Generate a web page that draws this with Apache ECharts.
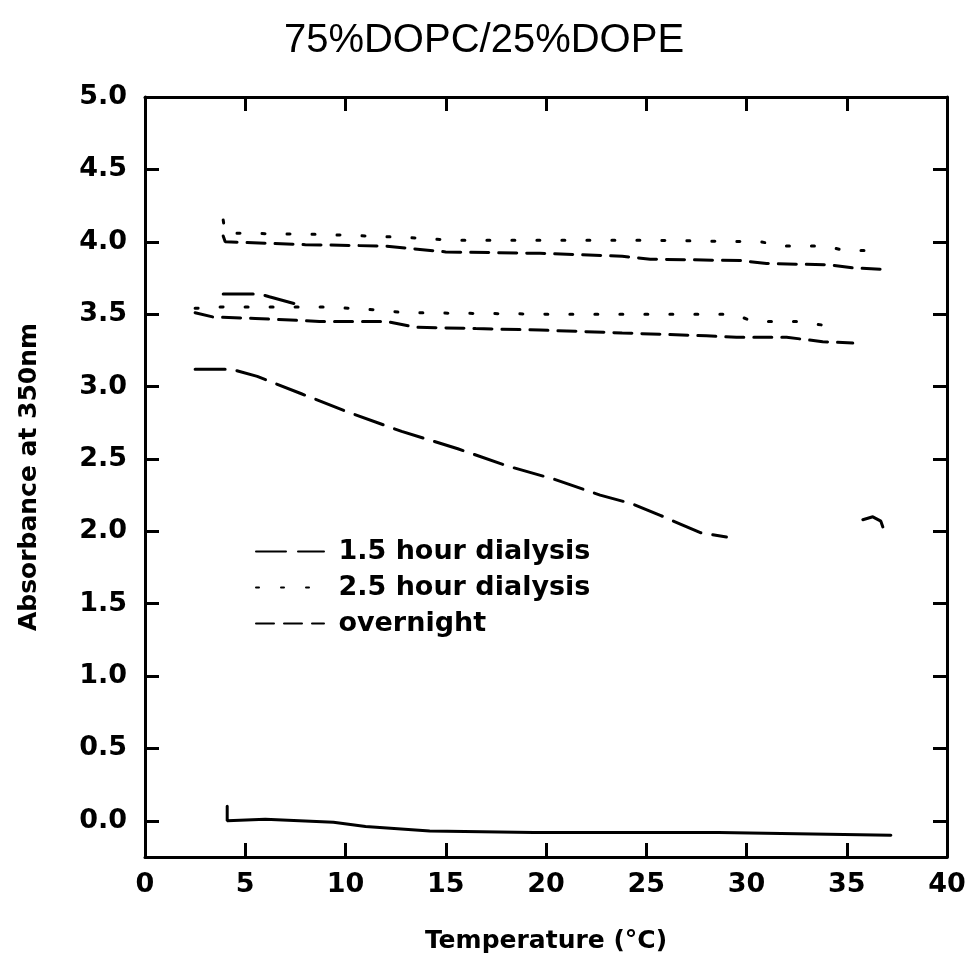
<!DOCTYPE html>
<html>
<head>
<meta charset="utf-8">
<script src="https://cdn.jsdelivr.net/npm/echarts@6/dist/echarts.min.js"></script>
<style>
  html, body { margin: 0; padding: 0; background: #fff; }
  #chart { width: 968px; height: 966px; }
</style>
</head>
<body>
<div id="chart"></div>
<script>
// absorbance vs temperature, 75% DOPC / 25% DOPE

var xTicks = [0, 5, 10, 15, 20, 25, 30, 35, 40];
var yTicks = [0, 0.5, 1.0, 1.5, 2.0, 2.5, 3.0, 3.5, 4.0, 4.5, 5.0];
var legendNames = ['1.5 hour dialysis', '2.5 hour dialysis', 'overnight'];

// 1.5 hour dialysis (long dash)
var t15 = [2.5, 4.3, 5.6, 7.8, 10.0, 12.8, 15.6, 18.1, 20.4, 22.7, 24.3, 25.7, 26.7, 27.7, 29.0];
var a15 = [3.12, 3.12, 3.07, 2.95, 2.83, 2.69, 2.57, 2.45, 2.36, 2.25, 2.19, 2.11, 2.05, 1.99, 1.96];
var t15b = [3.9, 5.7, 6.2, 7.8];
var a15b = [3.64, 3.64, 3.62, 3.56];
var t15c = [35.8, 36.3, 36.7, 36.8];
var a15c = [2.08, 2.10, 2.07, 2.03];

// 2.5 hour dialysis (dotted)
var t25a = [3.9, 4.0, 9.0, 13.0, 15.4, 19.4, 25.0, 30.7, 31.8, 33.9, 34.9, 35.9];
var a25a = [4.15, 4.06, 4.05, 4.03, 4.01, 4.01, 4.01, 4.00, 3.97, 3.97, 3.94, 3.94];
var t25b = [2.5, 3.9, 9.1, 11.4, 13.0, 20.0, 25.0, 29.4, 30.3, 32.6, 34.0, 34.5];
var a25b = [3.54, 3.55, 3.55, 3.53, 3.51, 3.50, 3.50, 3.50, 3.45, 3.45, 3.42, 3.42];

// overnight (short dash)
var tOna = [3.9, 4.0, 8.0, 12.0, 15.0, 19.7, 23.8, 25.2, 29.7, 31.0, 34.2, 35.3, 36.7];
var aOna = [4.04, 4.00, 3.98, 3.97, 3.93, 3.92, 3.90, 3.88, 3.87, 3.85, 3.84, 3.82, 3.81];
var tOnb = [2.5, 3.4, 5.5, 8.7, 12.0, 13.5, 16.5, 19.7, 21.8, 23.8, 25.9, 28.0, 29.5, 32.0, 33.8, 35.3];
var aOnb = [3.51, 3.48, 3.47, 3.45, 3.45, 3.41, 3.40, 3.39, 3.38, 3.37, 3.36, 3.35, 3.34, 3.34, 3.31, 3.30];

// solid trace near zero
var tBase = [4.1, 4.1, 6.0, 9.4, 11.0, 14.2, 19.4, 28.6, 37.2];
var aBase = [0.10, 0.00, 0.01, -0.01, -0.04, -0.07, -0.08, -0.08, -0.10];

function zip(xs, ys) {
  return xs.map(function (x, i) { return [x, ys[i]]; });
}

var boldFont = "'DejaVu Sans', sans-serif";
var dashLong = [30, 12];
var dashDot = [3, 22];
var dashShort = [18, 10];

function lineSeries(name, data, dash) {
  return {
    name: name,
    type: 'line',
    data: data,
    symbol: 'none',
    showSymbol: false,
    animation: false,
    lineStyle: { color: '#000', width: 3, type: dash, cap: 'round' },
    itemStyle: { color: '#000' }
  };
}

var axisLineStyle = { onZero: false, lineStyle: { color: '#000', width: 3 } };
var tickStyle = { inside: true, length: 14, lineStyle: { color: '#000', width: 3 } };

var myChart = echarts.init(document.getElementById('chart'));
var option = {
  backgroundColor: '#fff',
  animation: false,
  title: {
    text: '75%DOPC/25%DOPE',
    left: 'center',
    top: 16,
    textStyle: {
      color: '#000',
      fontSize: 40,
      fontWeight: 'normal',
      fontFamily: "'Liberation Sans', sans-serif"
    }
  },
  legend: {
    orient: 'vertical',
    left: 250,
    top: 533,
    itemWidth: 68,
    itemHeight: 14,
    itemGap: 9,
    data: legendNames,
    formatter: ' {name}',
    itemStyle: { opacity: 0 },
    textStyle: { color: '#000', fontSize: 27, fontWeight: 'bold', fontFamily: boldFont }
  },
  grid: { left: 145, right: 21, top: 97, bottom: 109, outerBoundsMode: 'none' },
  xAxis: [
    {
      type: 'value', min: 0, max: 40, interval: 5, position: 'bottom',
      name: 'Temperature (°C)', nameLocation: 'middle', nameGap: 72,
      nameTextStyle: { color: '#000', fontSize: 25, fontWeight: 'bold', fontFamily: boldFont },
      axisLine: axisLineStyle, axisTick: tickStyle, splitLine: { show: false },
      axisLabel: { color: '#000', fontSize: 27, fontWeight: 'bold', fontFamily: boldFont, margin: 14,
        customValues: xTicks }
    },
    {
      type: 'value', min: 0, max: 40, interval: 5, position: 'top',
      axisLine: axisLineStyle, axisTick: tickStyle, splitLine: { show: false },
      axisLabel: { show: false }
    }
  ],
  yAxis: [
    {
      type: 'value', min: -0.25, max: 5, position: 'left',
      name: 'Absorbance at 350nm', nameLocation: 'middle', nameGap: 103, nameRotate: 90,
      nameTextStyle: { color: '#000', fontSize: 25, fontWeight: 'bold', fontFamily: boldFont },
      axisLine: axisLineStyle,
      axisTick: { inside: true, length: 14, lineStyle: { color: '#000', width: 3 }, customValues: yTicks },
      splitLine: { show: false },
      axisLabel: { color: '#000', fontSize: 27, fontWeight: 'bold', fontFamily: boldFont, margin: 18,
        customValues: yTicks,
        formatter: function (v) { return v.toFixed(1); } }
    },
    {
      type: 'value', min: -0.25, max: 5, position: 'right',
      axisLine: axisLineStyle,
      axisTick: { inside: true, length: 14, lineStyle: { color: '#000', width: 3 }, customValues: yTicks },
      splitLine: { show: false },
      axisLabel: { show: false }
    }
  ],
  series: [
    lineSeries(legendNames[0], zip(t15, a15), dashLong),
    lineSeries(legendNames[0], zip(t15b, a15b), dashLong),
    lineSeries(legendNames[0], zip(t15c, a15c), dashLong),
    lineSeries(legendNames[1], zip(t25a, a25a), dashDot),
    lineSeries(legendNames[1], zip(t25b, a25b), dashDot),
    lineSeries(legendNames[2], zip(tOna, aOna), dashShort),
    lineSeries(legendNames[2], zip(tOnb, aOnb), dashShort),
    lineSeries('baseline', zip(tBase, aBase), 'solid')
  ]
};
myChart.setOption(option);
</script>
</body>
</html>
